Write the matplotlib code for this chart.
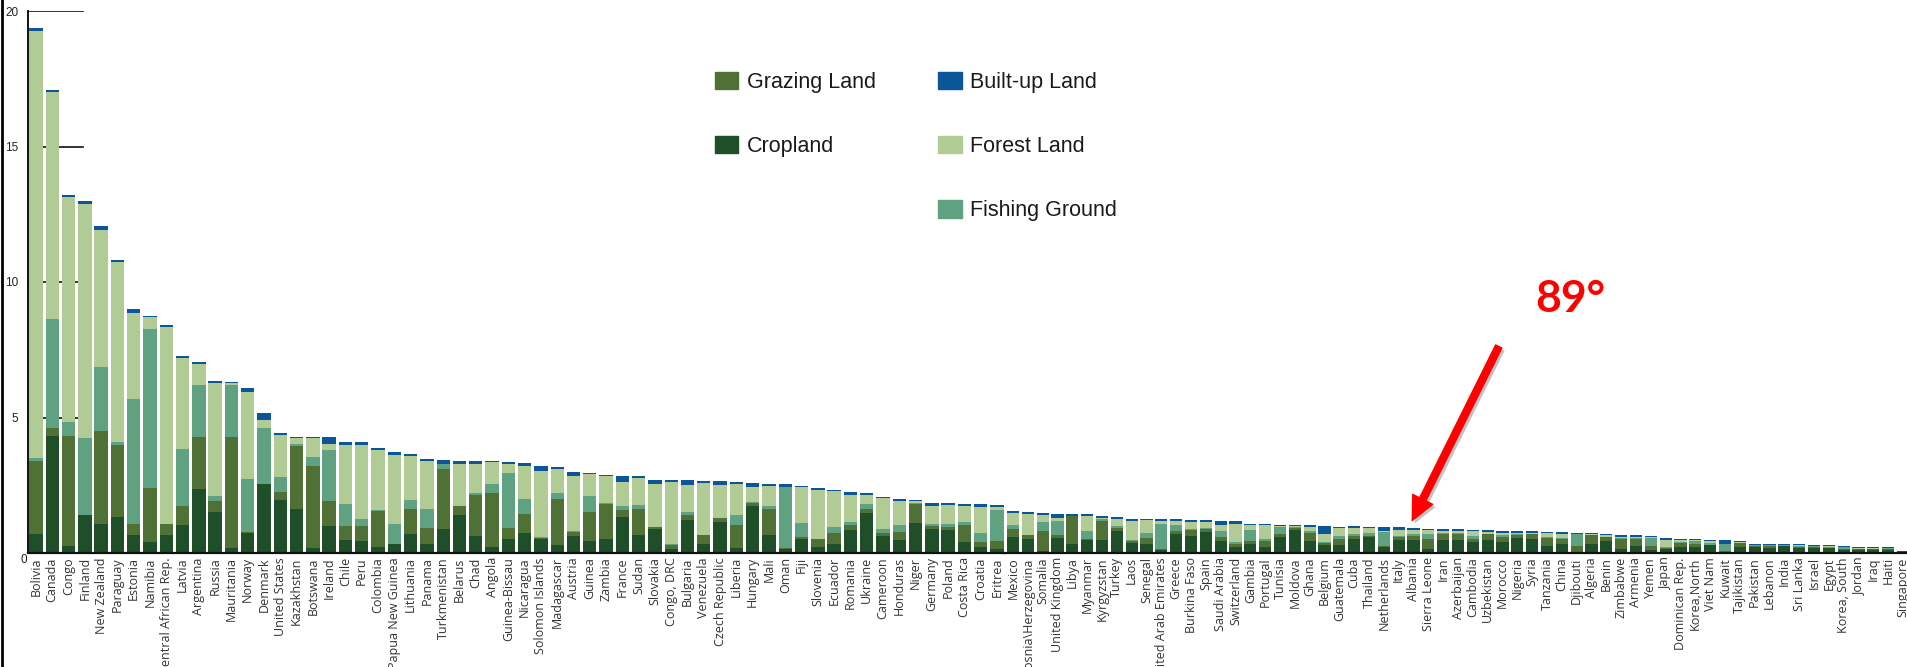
import matplotlib
matplotlib.use("Agg")
import numpy as np
import matplotlib.pyplot as plt
import matplotlib.patheffects as pe
from matplotlib.patches import Patch
from matplotlib.lines import Line2D

# countries, ranked by footprint (gha per person)
countries = [
    "Bolivia", "Canada", "Congo", "Finland", "New Zealand", "Paraguay", "Estonia", "Namibia",
    "Central African Rep.", "Latvia", "Argentina", "Russia", "Mauritania", "Norway", "Denmark",
    "United States", "Kazakhstan", "Botswana", "Ireland", "Chile", "Peru", "Colombia",
    "Papua New Guinea", "Lithuania", "Panama", "Turkmenistan", "Belarus", "Chad", "Angola",
    "Guinea-Bissau", "Nicaragua", "Solomon Islands", "Madagascar", "Austria", "Guinea", "Zambia",
    "France", "Sudan", "Slovakia", "Congo, DRC", "Bulgaria", "Venezuela", "Czech Republic",
    "Liberia", "Hungary", "Mali", "Oman", "Fiji", "Slovenia", "Ecuador", "Romania", "Ukraine",
    "Cameroon", "Honduras", "Niger", "Germany", "Poland", "Costa Rica", "Croatia", "Eritrea",
    # second panel
    "Mexico", "Bosnia\\Herzegovina", "Somalia", "United Kingdom", "Libya", "Myanmar",
    "Kyrgyzstan", "Turkey", "Laos", "Senegal", "United Arab Emirates", "Greece", "Burkina Faso",
    "Spain", "Saudi Arabia", "Switzerland", "Gambia", "Portugal", "Tunisia", "Moldova", "Ghana",
    "Belgium", "Guatemala", "Cuba", "Thailand", "Netherlands", "Italy", "Albania", "Sierra Leone",
    "Iran", "Azerbaijan", "Cambodia", "Uzbekistan", "Morocco", "Nigeria", "Syria", "Tanzania",
    "China", "Djibouti", "Algeria", "Benin", "Zimbabwe", "Armenia", "Yemen", "Japan",
    "Dominican Rep.", "Korea,North", "Viet Nam", "Kuwait", "Tajikistan", "Pakistan", "Lebanon",
    "India", "Sri Lanka", "Israel", "Egypt", "Korea, South", "Jordan", "Iraq", "Haiti", "Singapore",
]

cropland = [
    0.70, 4.32, 0.26, 1.40, 1.08, 1.32, 0.67, 0.42, 0.67, 1.03, 2.35, 1.53, 0.20, 0.74, 2.53,
    1.95, 1.63, 0.20, 1.00, 0.47, 0.43, 0.22, 0.32, 0.71, 0.34, 0.87, 1.40, 0.63, 0.22, 0.50,
    0.75, 0.50, 0.31, 0.63, 0.43, 0.50, 1.32, 0.66, 0.87, 0.16, 1.23, 0.32, 1.16, 0.20, 1.75,
    0.66, 0.16, 0.50, 0.22, 0.34, 0.86, 1.48, 0.63, 0.47, 1.11, 0.87, 0.84, 0.39, 0.22, 0.16,
    0.59, 0.52, 0.07, 0.55, 0.32, 0.47, 0.47, 0.80, 0.37, 0.32, 0.11, 0.70, 0.63, 0.76, 0.43,
    0.23, 0.32, 0.22, 0.59, 0.86, 0.44, 0.28, 0.28, 0.52, 0.59, 0.22, 0.47, 0.47, 0.16, 0.47,
    0.47, 0.39, 0.47, 0.39, 0.55, 0.52, 0.26, 0.33, 0.05, 0.33, 0.44, 0.15, 0.26, 0.10, 0.15,
    0.22, 0.22, 0.30, 0.04, 0.22, 0.22, 0.18, 0.26, 0.18, 0.17, 0.18, 0.11, 0.11, 0.12, 0.11,
    0.01,
]
grazing = [
    2.70, 0.29, 4.06, 0.00, 3.43, 2.67, 0.41, 1.98, 0.41, 0.72, 1.92, 0.38, 4.07, 0.02, 0.03,
    0.29, 2.30, 3.00, 0.91, 0.51, 0.55, 1.33, 0.02, 0.93, 0.57, 2.24, 0.32, 1.51, 2.01, 0.41,
    0.68, 0.05, 1.67, 0.14, 1.07, 1.32, 0.27, 0.96, 0.09, 0.12, 0.16, 0.33, 0.12, 0.82, 0.10,
    0.96, 0.04, 0.09, 0.28, 0.41, 0.16, 0.16, 0.12, 0.32, 0.71, 0.11, 0.12, 0.63, 0.17, 0.27,
    0.28, 0.14, 0.73, 0.11, 1.06, 0.05, 0.71, 0.12, 0.06, 0.23, 0.04, 0.12, 0.23, 0.11, 0.16,
    0.11, 0.12, 0.22, 0.10, 0.06, 0.30, 0.09, 0.24, 0.12, 0.02, 0.03, 0.12, 0.14, 0.36, 0.23,
    0.24, 0.13, 0.22, 0.19, 0.13, 0.17, 0.29, 0.19, 0.20, 0.33, 0.14, 0.37, 0.26, 0.16, 0.03,
    0.15, 0.10, 0.01, 0.02, 0.15, 0.04, 0.08, 0.01, 0.04, 0.05, 0.01, 0.02, 0.04, 0.03, 0.04,
    0.00,
]
fishing = [
    0.10, 4.02, 0.50, 2.84, 2.37, 0.09, 4.60, 5.87, 0.00, 2.07, 1.92, 0.20, 1.92, 1.98, 2.06,
    0.55, 0.09, 0.33, 1.88, 0.84, 0.29, 0.02, 0.72, 0.30, 0.73, 0.16, 0.03, 0.09, 0.33, 2.04,
    0.55, 0.04, 0.25, 0.03, 0.60, 0.03, 0.14, 0.16, 0.00, 0.06, 0.12, 0.03, 0.00, 0.37, 0.03,
    0.10, 2.24, 0.52, 0.03, 0.20, 0.14, 0.16, 0.12, 0.23, 0.03, 0.09, 0.11, 0.14, 0.36, 1.17,
    0.15, 0.00, 0.34, 0.52, 0.00, 0.28, 0.06, 0.08, 0.04, 0.18, 0.93, 0.20, 0.01, 0.05, 0.22,
    0.05, 0.41, 0.09, 0.26, 0.04, 0.07, 0.05, 0.09, 0.07, 0.12, 0.54, 0.04, 0.08, 0.19, 0.04,
    0.02, 0.09, 0.02, 0.10, 0.03, 0.01, 0.04, 0.03, 0.46, 0.00, 0.00, 0.02, 0.02, 0.28, 0.04,
    0.04, 0.12, 0.06, 0.28, 0.01, 0.02, 0.02, 0.01, 0.05, 0.04, 0.03, 0.08, 0.01, 0.01, 0.02,
    0.02,
]
forest = [
    15.77, 8.37, 8.33, 8.65, 5.04, 6.66, 3.19, 0.43, 7.27, 3.39, 0.80, 4.16, 0.08, 3.20, 0.29,
    1.56, 0.22, 0.71, 0.23, 2.18, 2.73, 2.22, 2.57, 1.64, 1.74, 0.00, 1.55, 1.07, 0.79, 0.35,
    1.24, 2.44, 0.88, 2.03, 0.82, 0.98, 0.90, 1.00, 1.59, 2.28, 1.00, 1.92, 1.23, 1.17, 0.56,
    0.75, 0.00, 1.33, 1.78, 1.33, 0.99, 0.35, 1.16, 0.90, 0.06, 0.65, 0.71, 0.59, 0.95, 0.10,
    0.44, 0.77, 0.25, 0.11, 0.00, 0.55, 0.04, 0.24, 0.71, 0.49, 0.10, 0.16, 0.26, 0.21, 0.21,
    0.68, 0.17, 0.49, 0.03, 0.02, 0.15, 0.27, 0.31, 0.20, 0.18, 0.02, 0.21, 0.16, 0.14, 0.08,
    0.09, 0.19, 0.06, 0.07, 0.04, 0.04, 0.14, 0.15, 0.00, 0.04, 0.08, 0.06, 0.06, 0.04, 0.27,
    0.07, 0.03, 0.07, 0.00, 0.03, 0.03, 0.02, 0.02, 0.03, 0.01, 0.02, 0.02, 0.02, 0.02, 0.01,
    0.00,
]
builtup = [
    0.10, 0.08, 0.05, 0.10, 0.15, 0.06, 0.12, 0.03, 0.08, 0.07, 0.07, 0.07, 0.05, 0.16, 0.27,
    0.08, 0.03, 0.03, 0.25, 0.10, 0.10, 0.07, 0.11, 0.09, 0.09, 0.15, 0.08, 0.08, 0.03, 0.05,
    0.09, 0.19, 0.08, 0.17, 0.03, 0.04, 0.20, 0.05, 0.16, 0.06, 0.17, 0.07, 0.16, 0.05, 0.16,
    0.08, 0.11, 0.03, 0.08, 0.03, 0.11, 0.08, 0.04, 0.07, 0.05, 0.14, 0.08, 0.07, 0.11, 0.06,
    0.08, 0.07, 0.07, 0.15, 0.05, 0.08, 0.07, 0.08, 0.07, 0.03, 0.07, 0.07, 0.09, 0.09, 0.16,
    0.11, 0.05, 0.05, 0.04, 0.04, 0.06, 0.29, 0.05, 0.07, 0.05, 0.14, 0.11, 0.06, 0.05, 0.07,
    0.05, 0.04, 0.07, 0.05, 0.05, 0.06, 0.06, 0.06, 0.04, 0.04, 0.05, 0.05, 0.05, 0.05, 0.08,
    0.04, 0.05, 0.04, 0.14, 0.03, 0.02, 0.03, 0.03, 0.03, 0.03, 0.06, 0.04, 0.04, 0.04, 0.04,
    0.03,
]

split = 60  # the picture is two panels glued together after Eritrea

layers = [
    ("Cropland", cropland, "#1e4f28"),
    ("Grazing Land", grazing, "#4f7135"),
    ("Fishing Ground", fishing, "#5fa282"),
    ("Forest Land", forest, "#b0cc94"),
    ("Built-up Land", builtup, "#0a5698"),
]
colors = {name: c for name, _, c in layers}

W, H = 1907, 667
fig = plt.figure(figsize=(W / 100, H / 100), dpi=100)

y0 = (H - 553) / H
y1 = (H - 11) / H
ax1 = fig.add_axes([28.3 / W, y0, (1005 - 28.3) / W, y1 - y0])
ax2 = fig.add_axes([1005 / W, y0, (W - 1005) / W, y1 - y0], sharey=ax1)


def draw_panel(ax, names, cols):
    x = np.arange(len(names))
    bottom = np.zeros(len(names))
    for name, vals, color in cols:
        vals = np.array(vals)
        ax.bar(x, vals, 0.82, bottom=bottom, color=color, linewidth=0, zorder=2)
        bottom += vals
    ax.set_xticks(x)
    ax.set_xticklabels(names, rotation=90, fontsize=9, family="Open Sans", color="#333333")
    ax.tick_params(axis="x", length=0, pad=3)
    for s in ["top", "right"]:
        ax.spines[s].set_visible(False)
    ax.spines["bottom"].set_linewidth(1.6)
    ax.spines["bottom"].set_color("#111111")


draw_panel(ax1, countries[:split], [(n, v[:split], c) for n, v, c in layers])
draw_panel(ax2, countries[split:], [(n, v[split:], c) for n, v, c in layers])

ax1.set_xlim(-0.47, split - 1 + 0.49)
ax2.set_xlim(-0.54, len(countries) - split - 1 + 0.27)
ax1.set_ylim(0, 20)

yt = [5, 10, 15, 20]
ax1.set_yticks(yt)
ax1.set_yticklabels([str(v) for v in yt], fontsize=8.5, family="Liberation Sans", color="#222222")
ax1.tick_params(axis="y", length=0, pad=7)
for v in yt:
    ax1.axhline(v, xmin=0, xmax=0.056, color="#111111", lw=1.2, zorder=1)
ax1.annotate("0", xy=(0, 0), xycoords="axes fraction", xytext=(-0.5, -0.5),
             textcoords="offset points", ha="right", va="top", fontsize=8.5,
             family="Liberation Sans", color="#222222")
ax1.spines["left"].set_linewidth(1.4)
ax1.spines["left"].set_color("#111111")

ax2.spines["left"].set_visible(False)
ax2.tick_params(axis="y", left=False, labelleft=False)

# legend: two columns, blank slot under Cropland
order = ["Grazing Land", "Cropland", None, "Built-up Land", "Forest Land", "Fishing Ground"]
handles = [Patch(color=colors[n]) if n else Patch(alpha=0) for n in order]
labels = [n if n else "" for n in order]
fig.legend(handles, labels, ncol=2, loc="upper left",
           bbox_to_anchor=(715 / W, (H - 72) / H), frameon=False,
           prop={"family": "Liberation Sans", "size": 15.5},
           handlelength=1.08, handleheight=0.86, handletextpad=0.4,
           labelspacing=2.0, columnspacing=2.9, borderpad=0, borderaxespad=0,
           labelcolor="#1a1a1a")

# red annotation arrow
ax2.annotate("", xy=(1411, H - 523), xycoords="figure pixels",
             xytext=(1500, H - 344), textcoords="figure pixels",
             arrowprops=dict(arrowstyle="simple,head_length=1.7,head_width=1.6,tail_width=0.5",
                             color="#ff0000", mutation_scale=10,
                             path_effects=[pe.SimplePatchShadow(offset=(2, -2), shadow_rgbFace="#888888", alpha=0.5),
                                           pe.Normal()]))
fig.text(1535 / W, (H - 312) / H, "89°", color="#ff0000", fontsize=32,
         fontweight="bold", family="Lato", va="baseline", ha="left")

# dark border on the picture's left edge
fig.add_artist(Line2D([0.0008, 0.0008], [0, 1], transform=fig.transFigure, color="black", lw=2))

fig.savefig("out.png", dpi=100)
